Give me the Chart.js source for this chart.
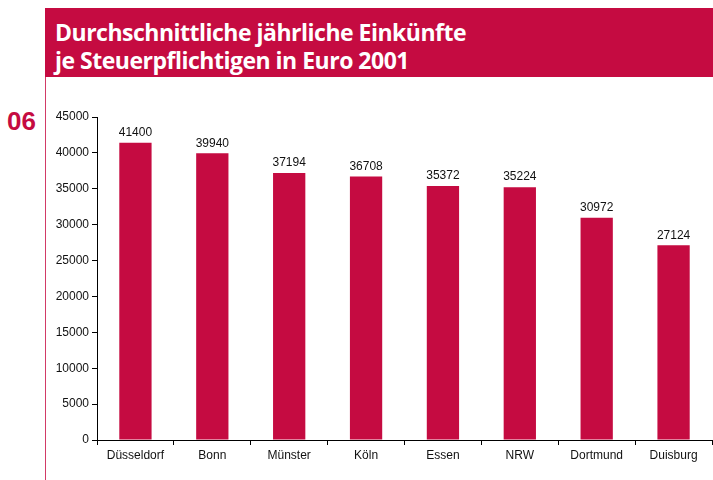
<!DOCTYPE html>
<html>
<head>
<meta charset="utf-8">
<script src="https://cdn.jsdelivr.net/npm/chart.js@4"></script>
<style>
  body { margin: 0; width: 713px; height: 480px; background: #fff; position: relative; overflow: hidden; font-family: "Liberation Sans", Arial, sans-serif; }
  #head { position: absolute; left: 45px; top: 8px; width: 668px; height: 69px; background: #c50b41; }
  #head div { position: absolute; left: 10px; top: 10px; color: #fff; font: bold 23px/28px "Open Sans", "Liberation Sans", sans-serif; letter-spacing: -0.5px; }
  #rule { position: absolute; left: 45px; top: 77px; width: 1px; height: 403px; background: #d23a66; }
  #num { position: absolute; left: 7px; top: 106px; color: #c50b41; font: bold 26px "Liberation Sans", Arial, sans-serif; }
  #box { position: absolute; left: 47px; top: 100px; width: 666px; height: 375px; }
</style>
</head>
<body>
<div id="head"><div>Durchschnittliche jährliche Einkünfte<br>je Steuerpflichtigen in Euro 2001</div></div>
<div id="rule"></div>
<div id="num">06</div>
<div id="box"><canvas id="chart"></canvas></div>
<script>
const cities = ["Düsseldorf", "Bonn", "Münster", "Köln", "Essen", "NRW", "Dortmund", "Duisburg"];
const income = [41400, 39940, 37194, 36708, 35372, 35224, 30972, 27124];

const valueLabels = {
  id: "valueLabels",
  afterDatasetsDraw(chart) {
    const ctx = chart.ctx;
    const meta = chart.getDatasetMeta(0);
    ctx.save();
    ctx.font = "12px 'Liberation Sans', Arial, sans-serif";
    ctx.fillStyle = "#111";
    ctx.textAlign = "center";
    ctx.textBaseline = "bottom";
    meta.data.forEach((bar, i) => {
      ctx.fillText(String(income[i]), bar.x, bar.y - 4);
    });
    ctx.restore();
  }
};

new Chart(document.getElementById("chart").getContext("2d"), {
  type: "bar",
  data: {
    labels: cities,
    datasets: [{
      data: income,
      backgroundColor: "#c50b41",
      borderWidth: 0,
      barPercentage: 0.42,
      categoryPercentage: 1
    }]
  },
  options: {
    responsive: true,
    maintainAspectRatio: false,
    animation: false,
    layout: { padding: { top: 17, right: 1, bottom: 0, left: 0 } },
    plugins: { legend: { display: false }, tooltip: { enabled: false } },
    scales: {
      x: {
        grid: { display: true, drawOnChartArea: false, drawTicks: true, tickLength: 5, color: "#000", offset: true },
        border: { display: true, color: "#000", width: 1 },
        ticks: { color: "#111", font: { size: 12, family: "'Liberation Sans', Arial, sans-serif" }, padding: 3, maxRotation: 0, autoSkip: false },
        afterFit(scale) { scale.height = 35; }
      },
      y: {
        min: 0,
        max: 45000,
        ticks: {
          stepSize: 5000,
          color: "#111",
          font: { size: 12, family: "'Liberation Sans', Arial, sans-serif" },
          padding: 3,
          callback: (v) => String(v)
        },
        grid: { display: true, drawOnChartArea: false, drawTicks: true, tickLength: 5, color: "#000" },
        border: { display: true, color: "#000", width: 1 },
        afterFit(scale) { scale.width = 50; }
      }
    }
  },
  plugins: [valueLabels]
});
</script>
</body>
</html>
